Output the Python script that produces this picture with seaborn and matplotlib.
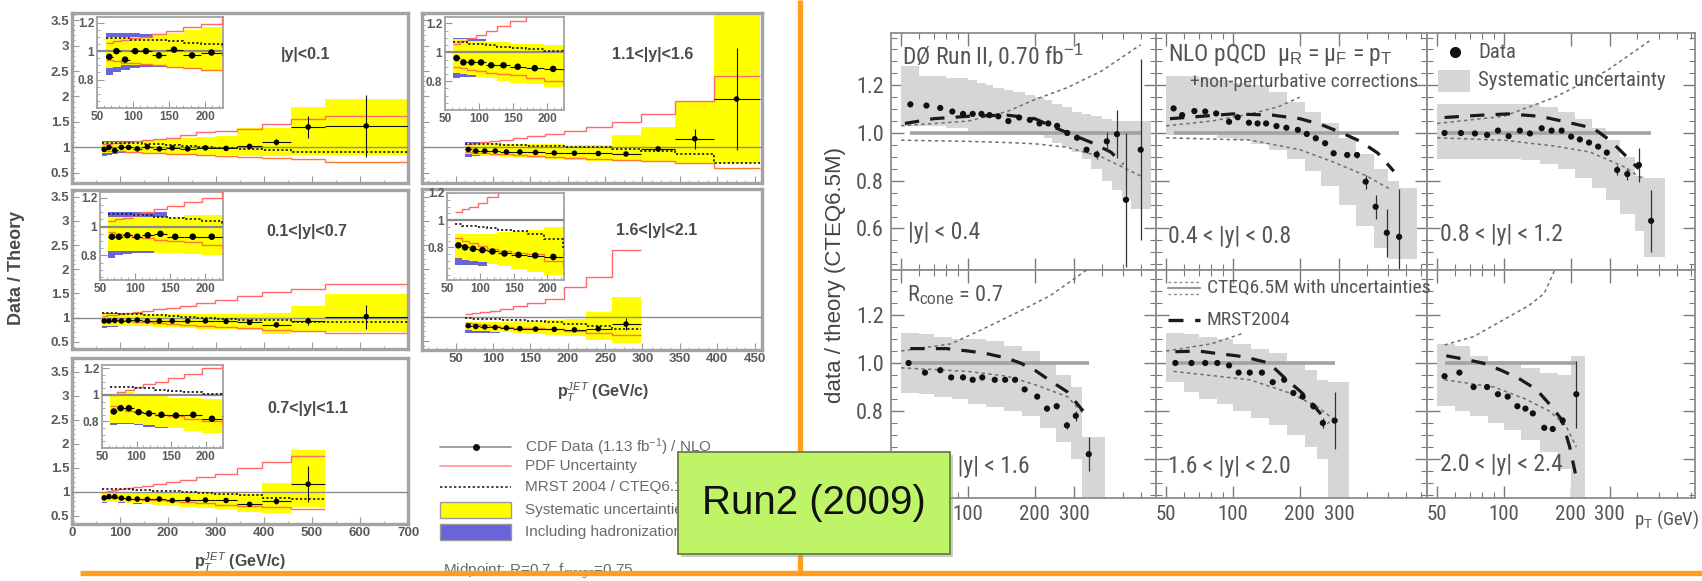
import numpy as np
import matplotlib
matplotlib.use("Agg")
import matplotlib.pyplot as plt
from matplotlib import font_manager
from matplotlib.ticker import MultipleLocator, NullFormatter
from matplotlib.patches import Rectangle
from matplotlib.lines import Line2D
import seaborn as sns

# ---------------------------------------------------------------- CDF (left)
CDF_EDGES = [62, 72, 83, 96, 110, 127, 146, 169, 195, 224, 259, 298, 344, 396, 457, 527, 700]
CDF_PT = [67, 77, 89, 103, 118, 136, 157, 182, 209, 241, 278, 321, 370, 426, 492, 613]

# |y| < 0.1
A_DATA = [0.96, 1.0, 0.94, 1.0, 1.0, 0.97, 1.01, 0.97, 0.99, 0.97, 0.99, 0.98, 1.02, 1.1, 1.4, 1.42]
A_STAT = [0.01, 0.01, 0.01, 0.01, 0.01, 0.01, 0.01, 0.01, 0.01, 0.012, 0.015, 0.02, 0.03, 0.06, 0.22, 0.6]
A_SYS_LO = [0.88, 0.89, 0.9, 0.9, 0.9, 0.9, 0.89, 0.88, 0.87, 0.86, 0.85, 0.85, 0.84, 0.83, 0.85, 0.85]
A_SYS_HI = [1.1, 1.1, 1.1, 1.1, 1.1, 1.11, 1.13, 1.15, 1.17, 1.18, 1.2, 1.22, 1.38, 1.38, 1.8, 1.95]
A_PDF_LO = [0.94, 0.93, 0.92, 0.92, 0.91, 0.9, 0.89, 0.88, 0.87, 0.86, 0.85, 0.84, 0.82, 0.8, 0.78, 0.72]
A_PDF_HI = [1.06, 1.07, 1.08, 1.09, 1.1, 1.12, 1.14, 1.17, 1.19, 1.25, 1.3, 1.33, 1.36, 1.45, 1.55, 1.62]
A_MRST = [1.09, 1.09, 1.09, 1.08, 1.08, 1.08, 1.07, 1.06, 1.05, 1.03, 1.01, 0.99, 0.97, 0.95, 0.9, 0.9]
A_HAD_LO = [0.83, 0.85, 0.87, 0.88, 0.89, 0.89]
A_HAD_HI = [1.13, 1.13, 1.13, 1.13, 1.12, 1.12]

# 0.1 < |y| < 0.7
B_DATA = [0.93, 0.93, 0.94, 0.93, 0.94, 0.95, 0.93, 0.93, 0.93, 0.93, 0.93, 0.92, 0.9, 0.85, 0.93, 1.02]
B_STAT = [0.01, 0.01, 0.01, 0.01, 0.01, 0.01, 0.01, 0.01, 0.01, 0.012, 0.015, 0.02, 0.03, 0.05, 0.08, 0.25]
B_SYS_LO = [0.83, 0.83, 0.83, 0.83, 0.83, 0.82, 0.82, 0.81, 0.8, 0.79, 0.77, 0.76, 0.74, 0.66, 0.72, 0.7]
B_SYS_HI = [1.07, 1.07, 1.07, 1.07, 1.07, 1.07, 1.07, 1.08, 1.08, 1.08, 1.08, 1.08, 1.08, 1.1, 1.25, 1.48]
B_PDF_LO = [0.96, 0.95, 0.94, 0.93, 0.92, 0.91, 0.9, 0.89, 0.87, 0.85, 0.83, 0.8, 0.78, 0.75, 0.72, 0.68]
B_PDF_HI = [1.04, 1.05, 1.06, 1.08, 1.1, 1.12, 1.14, 1.17, 1.2, 1.25, 1.3, 1.36, 1.45, 1.52, 1.6, 1.7]
B_MRST = [1.09, 1.09, 1.09, 1.08, 1.08, 1.07, 1.06, 1.05, 1.04, 1.02, 1.0, 0.98, 0.96, 0.94, 0.91, 0.9]
B_HAD_LO = [0.78, 0.8, 0.81, 0.82, 0.82, 0.82]
B_HAD_HI = [1.1, 1.1, 1.1, 1.1, 1.1, 1.1]

# 0.7 < |y| < 1.1
C_DATA = [0.875, 0.9, 0.9, 0.87, 0.86, 0.85, 0.845, 0.85, 0.82, 0.84, 0.83, 0.82, 0.74, 0.8, 1.16]
C_STAT = [0.01, 0.01, 0.01, 0.01, 0.01, 0.01, 0.01, 0.01, 0.01, 0.012, 0.015, 0.02, 0.03, 0.06, 0.37]
C_SYS_LO = [0.79, 0.79, 0.79, 0.78, 0.77, 0.76, 0.75, 0.73, 0.71, 0.69, 0.67, 0.65, 0.58, 0.55, 0.68]
C_SYS_HI = [1.0, 1.02, 1.02, 1.0, 0.99, 0.99, 0.98, 0.98, 0.97, 0.97, 0.96, 0.95, 0.96, 1.18, 1.88]
C_PDF_LO = [0.92, 0.9, 0.88, 0.87, 0.86, 0.85, 0.84, 0.82, 0.8, 0.78, 0.76, 0.73, 0.7, 0.68, 0.65]
C_PDF_HI = [1.0, 1.02, 1.04, 1.06, 1.08, 1.1, 1.13, 1.16, 1.2, 1.25, 1.31, 1.38, 1.49, 1.63, 1.75]
C_MRST = [1.06, 1.06, 1.06, 1.05, 1.05, 1.04, 1.03, 1.02, 1.01, 1.0, 0.98, 0.96, 0.93, 0.88, 0.86]
C_HAD_LO = [0.77, 0.78, 0.78, 0.77, 0.76, 0.75]
C_HAD_HI = [1.0, 1.02, 1.02, 1.0, 0.99, 0.99]

# 1.1 < |y| < 1.6
D_DATA = [0.96, 0.93, 0.93, 0.93, 0.91, 0.91, 0.9, 0.89, 0.885, 0.88, 0.87, 0.97, 1.17, 1.95]
D_STAT = [0.01, 0.01, 0.01, 0.01, 0.01, 0.01, 0.01, 0.01, 0.01, 0.015, 0.02, 0.03, 0.2, 1.0]
D_SYS_LO = [0.86, 0.85, 0.84, 0.83, 0.82, 0.8, 0.79, 0.78, 0.76, 0.74, 0.76, 0.74, 0.69, 0.69]
D_SYS_HI = [1.09, 1.09, 1.08, 1.08, 1.07, 1.07, 1.06, 1.06, 1.05, 1.05, 1.24, 1.4, 1.92, 3.7]
D_PDF_LO = [0.9, 0.89, 0.88, 0.87, 0.86, 0.85, 0.84, 0.82, 0.8, 0.78, 0.76, 0.74, 0.69, 0.6]
D_PDF_HI = [1.06, 1.08, 1.1, 1.12, 1.15, 1.18, 1.22, 1.27, 1.33, 1.4, 1.5, 1.66, 1.92, 2.41]
D_MRST = [1.07, 1.07, 1.06, 1.06, 1.05, 1.04, 1.03, 1.02, 1.01, 1.0, 0.97, 0.93, 0.86, 0.69]
D_HAD_LO = [0.82, 0.83, 0.83, 0.83]
D_HAD_HI = [1.1, 1.1, 1.09, 1.09]

# 1.6 < |y| < 2.1
E_DATA = [0.815, 0.8, 0.79, 0.78, 0.77, 0.755, 0.745, 0.74, 0.73, 0.75, 0.85]
E_STAT = [0.01, 0.01, 0.01, 0.01, 0.01, 0.01, 0.01, 0.01, 0.02, 0.03, 0.12]
E_SYS_LO = [0.72, 0.71, 0.7, 0.69, 0.68, 0.66, 0.64, 0.62, 0.6, 0.52, 0.45]
E_SYS_HI = [0.9, 0.9, 0.9, 0.9, 0.9, 0.91, 0.92, 0.93, 0.95, 1.1, 1.42]
E_PDF_LO = [0.87, 0.85, 0.83, 0.81, 0.79, 0.77, 0.76, 0.75, 0.7, 0.66, 0.62]
E_PDF_HI = [1.06, 1.08, 1.1, 1.13, 1.17, 1.22, 1.28, 1.38, 1.62, 1.83, 2.39]
E_MRST = [0.97, 0.96, 0.96, 0.95, 0.94, 0.93, 0.92, 0.9, 0.86, 0.8, 0.75]
E_HAD_LO = [0.67, 0.67, 0.67, 0.66]
E_HAD_HI = [0.9, 0.9, 0.9, 0.9]

CDF_LABELS = ["|y|<0.1", "0.1<|y|<0.7", "0.7<|y|<1.1", "1.1<|y|<1.6", "1.6<|y|<2.1"]
CDF_LEGEND = ["CDF Data (1.13 fb$^{-1}$) / NLO", "PDF Uncertainty", "MRST 2004 / CTEQ6.1M",
              "Systematic uncertainties", "Including hadronization"]

# ---------------------------------------------------------------- D0 (right)
# |y| < 0.4
P1_PT = [55, 65, 75, 85, 95, 105, 115, 125, 137, 152, 170, 190, 210, 230, 252, 280, 310, 342, 380, 422, 469, 515, 600]
P1_DATA = [1.12, 1.115, 1.105, 1.09, 1.08, 1.08, 1.08, 1.075, 1.07, 1.05, 1.065, 1.055, 1.04, 1.04, 1.03, 1.0,
           0.98, 0.93, 0.91, 0.965, 0.995, 0.72, 0.93]
P1_ERR = [0.004] * 15 + [0.006, 0.008, 0.012, 0.02, 0.04, 0.1, 0.28, 0.38]
P1_EDGES = [50, 60, 70, 80, 90, 100, 110, 120, 130, 145, 160, 180, 200, 220, 240, 265, 295, 325, 360, 400, 445, 495, 545, 665]
P1_HI = [1.28, 1.24, 1.24, 1.23, 1.23, 1.22, 1.21, 1.2, 1.19, 1.18, 1.17, 1.16, 1.15, 1.14, 1.12, 1.11, 1.09,
         1.08, 1.07, 1.06, 1.05, 1.05, 1.05]
P1_LO = [1.03, 1.03, 1.03, 1.02, 1.02, 1.01, 1.01, 1.0, 1.0, 1.0, 1.0, 1.0, 0.99, 0.98, 0.96, 0.94, 0.92,
         0.89, 0.85, 0.8, 0.76, 0.72, 0.68]
P1_CU_X = [50, 100, 150, 200, 280, 400, 600]
P1_CU = [1.03, 1.05, 1.09, 1.14, 1.19, 1.26, 1.37]
P1_CL_X = [50, 100, 150, 200, 280, 400, 600]
P1_CL = [0.97, 0.965, 0.96, 0.955, 0.94, 0.9, 0.82]
P1_M_X = [52, 70, 100, 150, 200, 250, 300, 360, 440, 500]
P1_M = [1.04, 1.06, 1.07, 1.075, 1.06, 1.02, 0.99, 0.96, 0.92, 0.87]

# 0.4 < |y| < 0.8
P2_PT = [54, 59, 67, 75, 84, 96, 105, 118, 129, 141, 157, 174, 196, 215, 236, 260, 284, 327, 362, 396, 439, 493, 560]
P2_DATA = [1.103, 1.075, 1.092, 1.09, 1.082, 1.047, 1.066, 1.043, 1.04, 1.04, 1.029, 1.022, 1.013, 0.996,
           0.978, 0.957, 0.915, 0.908, 0.908, 0.796, 0.691, 0.582, 0.565]
P2_ERR = [0.004] * 16 + [0.008, 0.01, 0.012, 0.03, 0.05, 0.1, 0.2]
P2_EDGES = [50, 60, 70, 85, 100, 120, 145, 175, 210, 250, 300, 360, 430, 500, 560, 677]
P2_HI = [1.24, 1.24, 1.23, 1.22, 1.21, 1.2, 1.17, 1.13, 1.09, 1.04, 0.98, 0.91, 0.85, 0.8, 0.77]
P2_LO = [0.99, 0.99, 0.99, 0.98, 0.97, 0.955, 0.93, 0.89, 0.84, 0.78, 0.7, 0.61, 0.52, 0.47, 0.47]
P2_CU_X = [50, 80, 120, 160, 200]
P2_CU = [1.03, 1.05, 1.08, 1.11, 1.15]
P2_CL_X = [50, 120, 200, 280, 400, 520]
P2_CL = [0.98, 0.97, 0.93, 0.88, 0.82, 0.76]
P2_M_X = [52, 100, 150, 200, 250, 310, 375, 450, 530]
P2_M = [1.06, 1.08, 1.075, 1.06, 1.035, 1.0, 0.965, 0.915, 0.84]

# 0.8 < |y| < 1.2
P3_PT = [54, 64, 74, 84, 94, 105, 118, 131, 148, 164, 182, 201, 220, 242, 266, 291, 324, 360, 406, 461]
P3_DATA = [1.0, 1.0, 0.998, 0.992, 1.01, 0.987, 1.01, 0.998, 1.02, 1.01, 1.01, 0.985, 0.973, 0.96, 0.943,
           0.918, 0.845, 0.828, 0.866, 0.632]
P3_ERR = [0.004] * 15 + [0.01, 0.02, 0.025, 0.07, 0.13]
P3_EDGES = [50, 60, 70, 85, 100, 120, 145, 175, 210, 250, 290, 335, 390, 430, 530]
P3_HI = [1.12, 1.12, 1.12, 1.12, 1.12, 1.12, 1.11, 1.09, 1.06, 1.02, 0.97, 0.9, 0.82, 0.81]
P3_LO = [0.89, 0.89, 0.89, 0.89, 0.89, 0.885, 0.87, 0.85, 0.81, 0.77, 0.72, 0.66, 0.59, 0.48]
P3_CU_X = [50, 100, 170, 290, 460]
P3_CU = [1.04, 1.07, 1.15, 1.26, 1.39]
P3_CL_X = [50, 100, 170, 245, 345, 420]
P3_CL = [0.98, 0.97, 0.945, 0.92, 0.86, 0.81]
P3_M_X = [54, 80, 104, 146, 204, 253, 300, 345, 405]
P3_M = [1.065, 1.075, 1.08, 1.07, 1.04, 1.02, 0.97, 0.915, 0.85]

# 1.2 < |y| < 1.6
P4_PT = [54, 64, 75, 84, 95, 105, 116, 132, 147, 163, 180, 205, 227, 251, 279, 306, 350]
P4_DATA = [1.0, 0.96, 0.97, 0.94, 0.94, 0.93, 0.94, 0.93, 0.93, 0.93, 0.89, 0.86, 0.81, 0.82, 0.74, 0.78, 0.62]
P4_ERR = [0.004] * 12 + [0.01, 0.01, 0.015, 0.02, 0.07]
P4_EDGES = [50, 60, 70, 85, 100, 120, 145, 175, 210, 250, 290, 325, 413]
P4_HI = [1.125, 1.12, 1.11, 1.1, 1.1, 1.09, 1.07, 1.05, 1.0, 0.95, 0.9, 0.69]
P4_LO = [0.875, 0.87, 0.86, 0.85, 0.83, 0.815, 0.8, 0.78, 0.73, 0.67, 0.6, 0.44]
P4_CU_X = [50, 84, 116, 166, 234, 300, 345]
P4_CU = [1.05, 1.08, 1.14, 1.21, 1.28, 1.35, 1.39]
P4_CL_X = [50, 100, 150, 200, 280, 330]
P4_CL = [0.98, 0.965, 0.945, 0.91, 0.86, 0.79]
P4_M_X = [55, 80, 100, 120, 150, 172, 200, 240, 280, 330]
P4_M = [1.06, 1.06, 1.05, 1.04, 1.02, 1.0, 0.97, 0.92, 0.88, 0.8]

# 1.6 < |y| < 2.0
P5_PT = [55, 65, 75, 85, 96, 106, 119, 135, 151, 170, 187, 206, 230, 254, 287]
P5_DATA = [1.0, 1.0, 1.0, 1.0, 0.99, 0.96, 0.96, 0.96, 0.92, 0.93, 0.875, 0.86, 0.82, 0.75, 0.76]
P5_ERR = [0.004] * 10 + [0.008, 0.01, 0.012, 0.02, 0.12]
P5_EDGES = [50, 60, 70, 85, 100, 120, 145, 175, 210, 240, 267, 332]
P5_HI = [1.125, 1.12, 1.11, 1.1, 1.08, 1.06, 1.04, 1.01, 0.97, 0.93, 0.92]
P5_LO = [0.92, 0.88, 0.85, 0.83, 0.8, 0.77, 0.74, 0.7, 0.65, 0.6, 0.44]
P5_CU_X = [50, 80, 112]
P5_CU = [1.05, 1.08, 1.125]
P5_CL_X = [54, 119, 180, 238, 280]
P5_CL = [0.965, 0.93, 0.875, 0.82, 0.77]
P5_M_X = [55, 70, 84, 104, 119, 145, 170, 205, 232, 270]
P5_M = [1.047, 1.05, 1.04, 1.03, 1.02, 1.0, 0.94, 0.875, 0.82, 0.75]

# 2.0 < |y| < 2.4
P6_PT = [54, 63, 73, 84, 94, 104, 115, 125, 135, 152, 166, 184, 212]
P6_DATA = [0.945, 0.96, 0.9, 0.9, 0.87, 0.86, 0.82, 0.81, 0.79, 0.73, 0.725, 0.76, 0.87]
P6_ERR = [0.004] * 9 + [0.01, 0.01, 0.015, 0.14]
P6_EDGES = [50, 60, 70, 85, 100, 120, 145, 175, 200, 232]
P6_HI = [1.08, 1.07, 1.03, 1.01, 0.99, 0.98, 0.96, 0.95, 1.03]
P6_LO = [0.82, 0.8, 0.78, 0.75, 0.72, 0.68, 0.63, 0.56, 0.44]
P6_CU_X = [54, 73, 104, 130, 152, 170]
P6_CU = [1.075, 1.11, 1.19, 1.24, 1.29, 1.39]
P6_CL_X = [54, 90, 125, 160, 190, 212]
P6_CL = [0.93, 0.9, 0.85, 0.8, 0.74, 0.65]
P6_M_X = [55, 67, 80, 97, 117, 140, 160, 182, 198, 210]
P6_M = [1.03, 1.015, 1.0, 0.97, 0.935, 0.89, 0.83, 0.765, 0.65, 0.54]

D0_LABELS = ["|y| < 0.4", "0.4 < |y| < 0.8", "0.8 < |y| < 1.2",
             "1.2 < |y| < 1.6", "1.6 < |y| < 2.0", "2.0 < |y| < 2.4"]
D0_XTICKS = [50, 100, 200, 300]
D0_XMINOR = [60, 70, 80, 90, 400, 500, 600, 700]
D0_YTICKS = [0.6, 0.8, 1.0, 1.2]

# ---------------------------------------------------------------- style
sns.set_theme(style="ticks")
plt.rcParams["font.family"] = ["Liberation Sans", "DejaVu Sans"]
plt.rcParams["mathtext.fontset"] = "custom"
plt.rcParams["mathtext.rm"] = "Liberation Sans"
plt.rcParams["mathtext.it"] = "Liberation Sans:italic"
plt.rcParams["mathtext.bf"] = "Liberation Sans:bold"

# a condensed face for the DØ annotations, if one is installed
_fonts = font_manager.fontManager.ttflist
_names = {f.name for f in _fonts}
NARROW = dict(family="Liberation Sans")
NSCALE = 0.8
for cand in ("Liberation Sans Narrow", "Roboto Condensed", "DejaVu Sans Condensed"):
    if cand in _names:
        NARROW = dict(family=cand)
        NSCALE = 1.0
        break
else:
    if any(f.name == "DejaVu Sans" and f.stretch == "condensed" for f in _fonts):
        NARROW = dict(family="DejaVu Sans", stretch="condensed")
        NSCALE = 0.95

YELLOW = "#ffff00"
PURPLE = "#6b63d8"
RED = "#ff6a6a"
BAND = "#d6d6d6"
ORANGE = "#ff9f1c"
D0_TXT = "#555555"

W, H = 1702, 581
fig = plt.figure(figsize=(W / 100, H / 100), dpi=100)
fig.patch.set_facecolor("white")


def put_axes(x0, y0, x1, y1, z=1):
    return fig.add_axes([x0 / W, 1 - y1 / H, (x1 - x0) / W, (y1 - y0) / H], zorder=z)


def ftext(x, y, s, **kw):
    return fig.text(x / W, 1 - y / H, s, **kw)


def ntext(x, y, s, size, **kw):
    return ftext(x, y, s, fontsize=size * NSCALE, color=D0_TXT, **NARROW, **kw)


# ---------------------------------------------------------------- CDF panels
def draw_cdf(ax, data, stat, slo, shi, plo, phi, mrst, hlo, hhi, inset):
    n = len(data)
    edges = np.asarray(CDF_EDGES[: n + 1], float)
    pt = np.asarray(CDF_PT[:n], float)
    m = len(hlo)
    ax.stairs(hhi, edges[: m + 1], baseline=hlo, fill=True, color=PURPLE, lw=0, zorder=1)
    ax.stairs(shi, edges, baseline=slo, fill=True, color=YELLOW, lw=0, zorder=2)
    ax.axhline(1.0, color="#8a8a8a", lw=1.6 if inset else 1.0, zorder=3)
    ax.stairs(phi, edges, baseline=None, color=RED, lw=1.0, zorder=4)
    ax.stairs(plo, edges, baseline=None, color="#ff7a30", lw=1.0, zorder=4)
    ax.stairs(mrst, edges, baseline=None, color="#222", lw=1.3, ls=(0, (1.2, 1.2)), zorder=5)
    xerr = [pt - edges[:-1], edges[1:] - pt]
    ax.errorbar(pt, data, xerr=xerr, yerr=stat, fmt="none", ecolor="#111",
                elinewidth=0.8, zorder=6)
    sns.scatterplot(x=pt, y=data, ax=ax, s=22 if inset else 16, color="#000",
                    edgecolor="none", zorder=7, legend=False)


def style_cdf(ax, xlim, ylim, xmajor, xminor, show_x, show_y, inset):
    ax.set_xlim(*xlim)
    ax.set_ylim(*ylim)
    ax.set_facecolor("white")
    for sp in ax.spines.values():
        sp.set_visible(True)
        sp.set_color("#a3a3a3")
        sp.set_linewidth(1.3 if inset else 2.4)
    size = 8.5 if inset else 9.5
    if inset:
        yt = [0.8, 1.0, 1.2]
        ylab = ["0.8", "1", "1.2"]
        ax.yaxis.set_minor_locator(MultipleLocator(0.05))
    else:
        yt = [0.5, 1, 1.5, 2, 2.5, 3, 3.5]
        ylab = ["0.5", "1", "1.5", "2", "2.5", "3", "3.5"]
        ax.yaxis.set_minor_locator(MultipleLocator(0.1))
    ax.set_yticks(yt, ylab, fontsize=size, color="#5a5a5a", fontweight="bold")
    ax.set_xticks(xmajor, [f"{v:g}" for v in xmajor], fontsize=size, color="#5a5a5a",
                  fontweight="bold")
    ax.xaxis.set_minor_locator(MultipleLocator(xminor))
    ax.tick_params(which="both", direction="in", color="#999", top=False, right=False,
                   labelbottom=show_x, labelleft=show_y, pad=2)
    ax.tick_params(which="major", length=5, width=0.8)
    ax.tick_params(which="minor", length=2.5, width=0.6)


CDF_SETS = [
    (A_DATA, A_STAT, A_SYS_LO, A_SYS_HI, A_PDF_LO, A_PDF_HI, A_MRST, A_HAD_LO, A_HAD_HI),
    (B_DATA, B_STAT, B_SYS_LO, B_SYS_HI, B_PDF_LO, B_PDF_HI, B_MRST, B_HAD_LO, B_HAD_HI),
    (C_DATA, C_STAT, C_SYS_LO, C_SYS_HI, C_PDF_LO, C_PDF_HI, C_MRST, C_HAD_LO, C_HAD_HI),
    (D_DATA, D_STAT, D_SYS_LO, D_SYS_HI, D_PDF_LO, D_PDF_HI, D_MRST, D_HAD_LO, D_HAD_HI),
    (E_DATA, E_STAT, E_SYS_LO, E_SYS_HI, E_PDF_LO, E_PDF_HI, E_MRST, E_HAD_LO, E_HAD_HI),
]
# frame rectangles, y-ranges, inset rectangles, inset y-ranges, label anchors
CDF_RECTS = [(72, 13, 408, 183), (72, 190, 408, 349), (72, 358, 408, 524),
             (422, 13, 762, 183), (422, 189, 762, 350)]
CDF_YLIM = [(0.30, 3.64), (0.35, 3.64), (0.33, 3.79), (0.30, 3.64), (0.31, 3.66)]
CDF_INSETS = [(97, 17, 223, 108), (100, 192, 223, 280), (102, 365, 223, 448),
              (445, 17, 564, 110), (447, 193, 564, 280)]
CDF_IYLIM = [(0.6, 1.24), (0.63, 1.24), (0.6, 1.225), (0.6, 1.245), (0.56, 1.2)]
CDF_LABPOS = [(305, 55), (307, 232), (308, 408), (653, 55), (657, 230)]

for i, vals in enumerate(CDF_SETS):
    left_col = i < 3
    ax = put_axes(*CDF_RECTS[i], z=1)
    draw_cdf(ax, *vals, inset=False)
    if left_col:
        style_cdf(ax, (0, 700), CDF_YLIM[i], list(range(0, 701, 100)), 50,
                  show_x=(i == 2), show_y=True, inset=False)
    else:
        style_cdf(ax, (5, 460), CDF_YLIM[i], list(range(50, 451, 50)), 12.5,
                  show_x=(i == 4), show_y=False, inset=False)
    ia = put_axes(*CDF_INSETS[i], z=2)
    draw_cdf(ia, *vals, inset=True)
    style_cdf(ia, (50, 225), CDF_IYLIM[i], [50, 100, 150, 200], 10,
              show_x=True, show_y=True, inset=True)
    ftext(*CDF_LABPOS[i], CDF_LABELS[i], ha="center", va="center", fontsize=11.5,
          fontweight="bold", color="#4a4a4a")

ftext(17, 268, "Data / Theory", rotation=90, ha="center", va="center", fontsize=13,
      fontweight="bold", color="#4a4a4a")
ftext(240, 562, "p$_T^{JET}$ (GeV/c)", ha="center", va="center", fontsize=11.5,
      fontweight="bold", color="#4a4a4a")
ftext(603, 392, "p$_T^{JET}$ (GeV/c)", ha="center", va="center", fontsize=11.5,
      fontweight="bold", color="#4a4a4a")
for k, s in enumerate(CDF_LEGEND):
    ftext(525, 447 + [0, 19, 40, 63, 85][k], s, ha="left", va="center", fontsize=11,
          color="#6a6a6a")
ftext(443, 571, "Midpoint: R=0.7, f$_{merge}$=0.75", ha="left", va="center", fontsize=11,
      color="#6a6a6a")

# ---------------------------------------------------------------- D0 panels
D0_SETS = [
    (P1_PT, P1_DATA, P1_ERR, P1_EDGES, P1_LO, P1_HI, P1_CU_X, P1_CU, P1_CL_X, P1_CL, P1_M_X, P1_M),
    (P2_PT, P2_DATA, P2_ERR, P2_EDGES, P2_LO, P2_HI, P2_CU_X, P2_CU, P2_CL_X, P2_CL, P2_M_X, P2_M),
    (P3_PT, P3_DATA, P3_ERR, P3_EDGES, P3_LO, P3_HI, P3_CU_X, P3_CU, P3_CL_X, P3_CL, P3_M_X, P3_M),
    (P4_PT, P4_DATA, P4_ERR, P4_EDGES, P4_LO, P4_HI, P4_CU_X, P4_CU, P4_CL_X, P4_CL, P4_M_X, P4_M),
    (P5_PT, P5_DATA, P5_ERR, P5_EDGES, P5_LO, P5_HI, P5_CU_X, P5_CU, P5_CL_X, P5_CL, P5_M_X, P5_M),
    (P6_PT, P6_DATA, P6_ERR, P6_EDGES, P6_LO, P6_HI, P6_CU_X, P6_CU, P6_CL_X, P6_CL, P6_M_X, P6_M),
]
D0_COLS = [(891, 1156), (1156, 1427), (1427, 1695)]
D0_ROWS = [(33, 270), (270, 498)]
D0_XLIM = [(45, 703), (45, 748), (45, 727)]
D0_YLIM = [(0.426, 1.419), (0.4375, 1.3875)]


def draw_d0(ax, pt, data, err, edges, lo, hi, cux, cu, clx, cl, mx, mv):
    ax.stairs(hi, edges, baseline=lo, fill=True, color=BAND, lw=0, zorder=1)
    ax.plot([pt[0], pt[-1]], [1.0, 1.0], color="#a2a2a2", lw=2.6, zorder=2,
            solid_capstyle="butt")
    sns.lineplot(x=cux, y=cu, ax=ax, color="#6f6f6f", lw=1.1, linestyle=(0, (2.2, 2.2)),
                 estimator=None, sort=False, zorder=3)
    sns.lineplot(x=clx, y=cl, ax=ax, color="#6f6f6f", lw=1.1, linestyle=(0, (2.2, 2.2)),
                 estimator=None, sort=False, zorder=3)
    sns.lineplot(x=mx, y=mv, ax=ax, color="#1a1a1a", lw=2.3, linestyle=(0, (4.5, 3.5)),
                 estimator=None, sort=False, zorder=4)
    ax.errorbar(pt, data, yerr=err, fmt="none", ecolor="#333", elinewidth=0.9, zorder=5)
    sns.scatterplot(x=pt, y=data, ax=ax, s=20, color="#111", edgecolor="none",
                    zorder=6, legend=False)


for k, vals in enumerate(D0_SETS):
    r, c = divmod(k, 3)
    x0, x1 = D0_COLS[c]
    y0, y1 = D0_ROWS[r]
    ax = put_axes(x0, y0, x1, y1, z=1)
    draw_d0(ax, *vals)
    ax.set_xscale("log")
    ax.set_xlim(*D0_XLIM[c])
    ax.set_ylim(*D0_YLIM[r])
    ax.set_xticks(D0_XTICKS, [f"{v:g}" for v in D0_XTICKS], fontsize=15 * NSCALE,
                  color=D0_TXT, **NARROW)
    ax.set_xticks(D0_XMINOR, minor=True)
    ax.xaxis.set_minor_formatter(NullFormatter())
    ax.set_yticks(D0_YTICKS, [f"{v:.1f}" for v in D0_YTICKS], fontsize=16 * NSCALE,
                  color=D0_TXT, **NARROW)
    ax.yaxis.set_minor_locator(MultipleLocator(0.05))
    ax.tick_params(which="both", direction="in", top=True, right=True, color="#7a7a7a",
                   labelbottom=(r == 1), labelleft=(c == 0), pad=5)
    ax.tick_params(which="major", length=9, width=1.0)
    ax.tick_params(which="minor", length=4.5, width=0.8)
    ax.set_facecolor("white")
    for sp in ax.spines.values():
        sp.set_visible(True)
        sp.set_color("#8c8c8c")
        sp.set_linewidth(1.3)
    ax.set_xlabel("")
    ax.set_ylabel("")

D0_LABPOS = [(908, 233), (1168, 237), (1440, 235), (907, 467), (1168, 467), (1440, 465)]
for k, s in enumerate(D0_LABELS):
    ntext(*D0_LABPOS[k], s, 17, ha="left", va="center")

ntext(902, 55, "DØ Run II, 0.70 fb$^{-1}$", 17, ha="left", va="center")
ntext(1168, 55, "NLO pQCD  μ$_\\mathrm{R}$ = μ$_\\mathrm{F}$ = p$_\\mathrm{T}$", 17,
      ha="left", va="center")
ntext(1418, 82, "+non-perturbative corrections", 14, ha="right", va="center")
ntext(1478, 53, "Data", 15, ha="left", va="center")
ntext(1478, 80, "Systematic uncertainty", 15, ha="left", va="center")
ntext(907, 295, "R$_\\mathrm{cone}$ = 0.7", 16, ha="left", va="center")
ntext(1207, 288, "CTEQ6.5M with uncertainties", 14, ha="left", va="center")
ntext(1207, 320, "MRST2004", 14, ha="left", va="center")
ntext(1699, 520, "p$_\\mathrm{T}$ (GeV)", 13.5, ha="right", va="center")
ftext(836, 275, "data / theory (CTEQ6.5M)", rotation=90, ha="center", va="center",
      fontsize=16, color="#444")

# ---------------------------------------------------------------- slide decorations
ov = fig.add_axes([0, 0, 1, 1], zorder=10)
ov.set_xlim(0, W)
ov.set_ylim(H, 0)
ov.axis("off")

# CDF legend swatches
ov.add_line(Line2D([440, 511], [447, 447], color="#9a9a9a", lw=1.3))
ov.plot([476], [447], "o", color="#111", ms=4)
ov.add_line(Line2D([440, 511], [466, 466], color="#ff9a9a", lw=1.3))
ov.add_line(Line2D([440, 511], [487, 487], color="#444", lw=1.4, ls=(0, (1.2, 1.2))))
ov.add_patch(Rectangle((440, 502), 71, 16, facecolor=YELLOW, edgecolor="#9a9a9a", lw=1))
ov.add_patch(Rectangle((440, 524), 71, 16, facecolor=PURPLE, edgecolor="#9a9a9a", lw=1))

# D0 legend swatches
ov.plot([1455], [52], "o", color="#111", ms=7)
ov.add_patch(Rectangle((1438, 70), 32, 22, facecolor=BAND, edgecolor="none"))
ov.add_line(Line2D([1168, 1200], [288, 288], color="#9a9a9a", lw=1.6))
ov.add_line(Line2D([1168, 1200], [282, 282], color="#8a8a8a", lw=1.0, ls=(0, (2, 2))))
ov.add_line(Line2D([1168, 1200], [294, 294], color="#8a8a8a", lw=1.0, ls=(0, (2, 2))))
ov.add_line(Line2D([1168, 1200], [320, 320], color="#1a1a1a", lw=2.4, ls=(0, (4.5, 3.5))))

# orange slide rules
ov.add_line(Line2D([800, 800], [0, 575], color=ORANGE, lw=3.8, solid_capstyle="butt", zorder=2))
ov.add_line(Line2D([80, W], [573, 573], color=ORANGE, lw=3.8, solid_capstyle="butt", zorder=2))

# caption box sits above the rules
ov.add_patch(Rectangle((681, 455), 272, 102, facecolor="#9a9a9a", edgecolor="none",
                       alpha=0.5, zorder=5))
ov.add_patch(Rectangle((678, 452), 272, 102, facecolor="#c0f468", edgecolor="#6d8a45",
                       lw=1.4, zorder=6))
ov.text(814, 503, "Run2 (2009)", ha="center", va="center", fontsize=29, color="#111", zorder=7)

fig.savefig("out.png", dpi=100, facecolor="white")
